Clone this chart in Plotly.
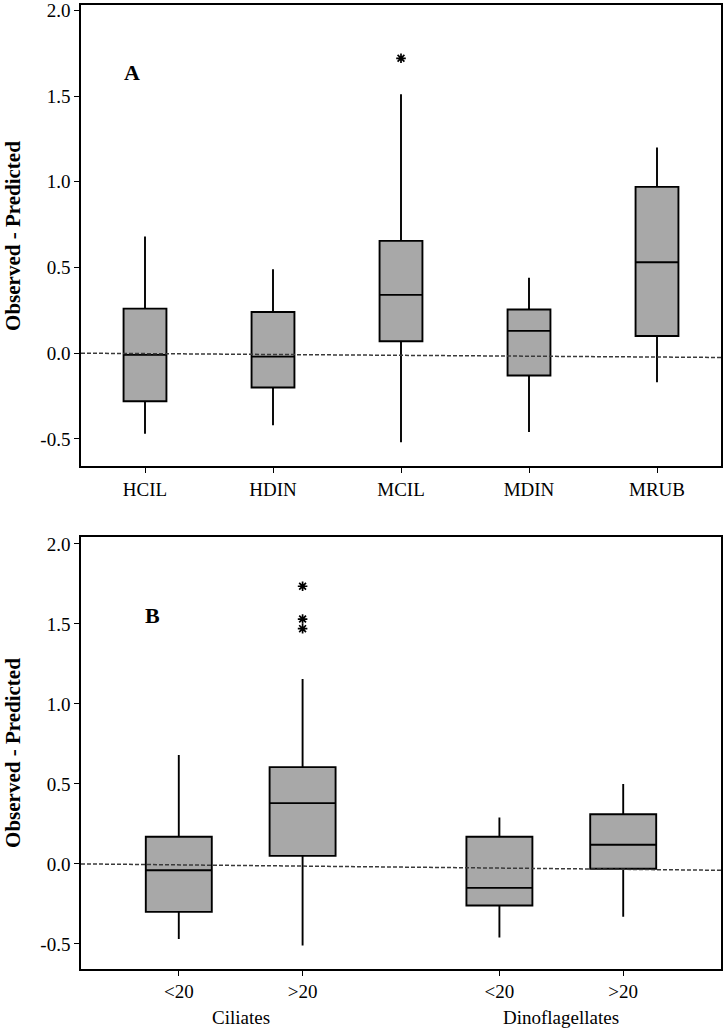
import plotly.graph_objects as go

# ---------- Panel A data ----------
a_labels = ["HCIL", "HDIN", "MCIL", "MDIN", "MRUB"]
a_pos = [0, 1, 2, 3, 4]
a_low = [-0.47, -0.42, -0.52, -0.46, -0.17]
a_q1 = [-0.28, -0.20, 0.07, -0.13, 0.10]
a_med = [-0.01, -0.02, 0.34, 0.13, 0.53]
a_q3 = [0.26, 0.24, 0.655, 0.255, 0.97]
a_high = [0.68, 0.49, 1.51, 0.44, 1.20]
a_out_x = [2]
a_out_y = [1.72]
a_ref_x = [-0.5, 4.5]
a_ref_y = [0.0, -0.025]

# ---------- Panel B data ----------
b_labels = ["<20", ">20", "<20", ">20"]
b_groups = ["Ciliates", "Dinoflagellates"]
b_pos = [1, 2, 3.59, 4.59]
b_low = [-0.47, -0.51, -0.46, -0.33]
b_q1 = [-0.30, 0.05, -0.26, -0.03]
b_med = [-0.04, 0.38, -0.15, 0.12]
b_q3 = [0.17, 0.605, 0.17, 0.31]
b_high = [0.68, 1.155, 0.29, 0.50]
b_out_x = [2, 2, 2]
b_out_y = [1.735, 1.53, 1.47]
b_ref_x = [0.21, 5.38]
b_ref_y = [0.0, -0.04]

y_ticks = [-0.5, 0.0, 0.5, 1.0, 1.5, 2.0]
y_ticktext = ["-0.5", "0.0", "0.5", "1.0", "1.5", "2.0"]

FONT = "Liberation Serif"
BOXFILL = "#a8a8a8"

fig = go.Figure()

def add_panel(pos, low, q1, med, q3, high, width, xa, ya):
    fig.add_trace(go.Box(
        x=pos, lowerfence=low, q1=q1, median=med, q3=q3, upperfence=high,
        width=width, whiskerwidth=0, fillcolor=BOXFILL,
        line=dict(color="black", width=1.9),
        boxpoints=False, showlegend=False, hoverinfo="skip",
        xaxis=xa, yaxis=ya,
    ))

def add_ref(xs, ys, xa, ya):
    fig.add_trace(go.Scatter(x=xs, y=ys, mode="lines",
                             line=dict(color="#3a3a3a", width=1.5, dash="4px,2px"),
                             showlegend=False, xaxis=xa, yaxis=ya, hoverinfo="skip"))

def add_out(xs, ys, xa, ya):
    fig.add_trace(go.Scatter(x=xs, y=ys, mode="markers",
                             marker=dict(symbol="asterisk", size=8,
                                         line=dict(color="black", width=1.7)),
                             showlegend=False, xaxis=xa, yaxis=ya))

add_panel(a_pos, a_low, a_q1, a_med, a_q3, a_high, 0.335, "x", "y")
add_ref(a_ref_x, a_ref_y, "x", "y")
add_out(a_out_x, a_out_y, "x", "y")

add_panel(b_pos, b_low, b_q1, b_med, b_q3, b_high, 0.533, "x2", "y2")
add_ref(b_ref_x, b_ref_y, "x2", "y2")
add_out(b_out_x, b_out_y, "x2", "y2")

axis_common = dict(showline=True, linecolor="black", linewidth=1.6, mirror=True,
                   ticks="outside", ticklen=5, tickwidth=1.3, tickcolor="black",
                   showgrid=False, zeroline=False, automargin=False,
                   ticklabeloverflow="allow",
                   tickfont=dict(family=FONT, size=19, color="black"))

fig.update_layout(
    width=726, height=1034,
    margin=dict(l=81, r=5, t=0, b=0, autoexpand=False),
    paper_bgcolor="white", plot_bgcolor="white",
    xaxis=dict(domain=[0, 1], anchor="y", range=[-0.5, 4.5],
               tickvals=a_pos, ticktext=a_labels, **axis_common),
    yaxis=dict(domain=[0.549, 0.995], anchor="x", range=[-0.66, 2.03],
               tickvals=y_ticks, ticktext=y_ticktext, **axis_common),
    xaxis2=dict(domain=[0, 1], anchor="y2", range=[0.21, 5.38],
                tickvals=b_pos, ticktext=b_labels, **axis_common),
    yaxis2=dict(domain=[0.063, 0.481], anchor="x2", range=[-0.656, 2.045],
                tickvals=y_ticks, ticktext=y_ticktext, **axis_common),
    annotations=[
        dict(text="<b>A</b>", x=-0.1, y=1.64, xref="x", yref="y", showarrow=False,
             font=dict(family=FONT, size=22, color="black")),
        dict(text="<b>B</b>", x=0.79, y=1.55, xref="x2", yref="y2", showarrow=False,
             font=dict(family=FONT, size=22, color="black")),
        dict(text="<b>Observed - Predicted</b>", x=-0.106, y=(0.549 + 0.995) / 2,
             xref="paper", yref="paper", textangle=-90, showarrow=False,
             xanchor="center", yanchor="middle",
             font=dict(family=FONT, size=21, color="black")),
        dict(text="<b>Observed - Predicted</b>", x=-0.106, y=(0.063 + 0.481) / 2,
             xref="paper", yref="paper", textangle=-90, showarrow=False,
             xanchor="center", yanchor="middle",
             font=dict(family=FONT, size=21, color="black")),
        dict(text=b_groups[0], x=(b_pos[0] + b_pos[1]) / 2, y=0.0155, xref="x2", yref="paper",
             showarrow=False, yanchor="middle", font=dict(family=FONT, size=19, color="black")),
        dict(text=b_groups[1], x=(b_pos[2] + b_pos[3]) / 2, y=0.0155, xref="x2", yref="paper",
             showarrow=False, yanchor="middle", font=dict(family=FONT, size=19, color="black")),
    ],
)

fig.write_html("out.html", config={"displayModeBar": False},
               post_script="document.body.style.margin='0';document.body.style.overflow='hidden';")
